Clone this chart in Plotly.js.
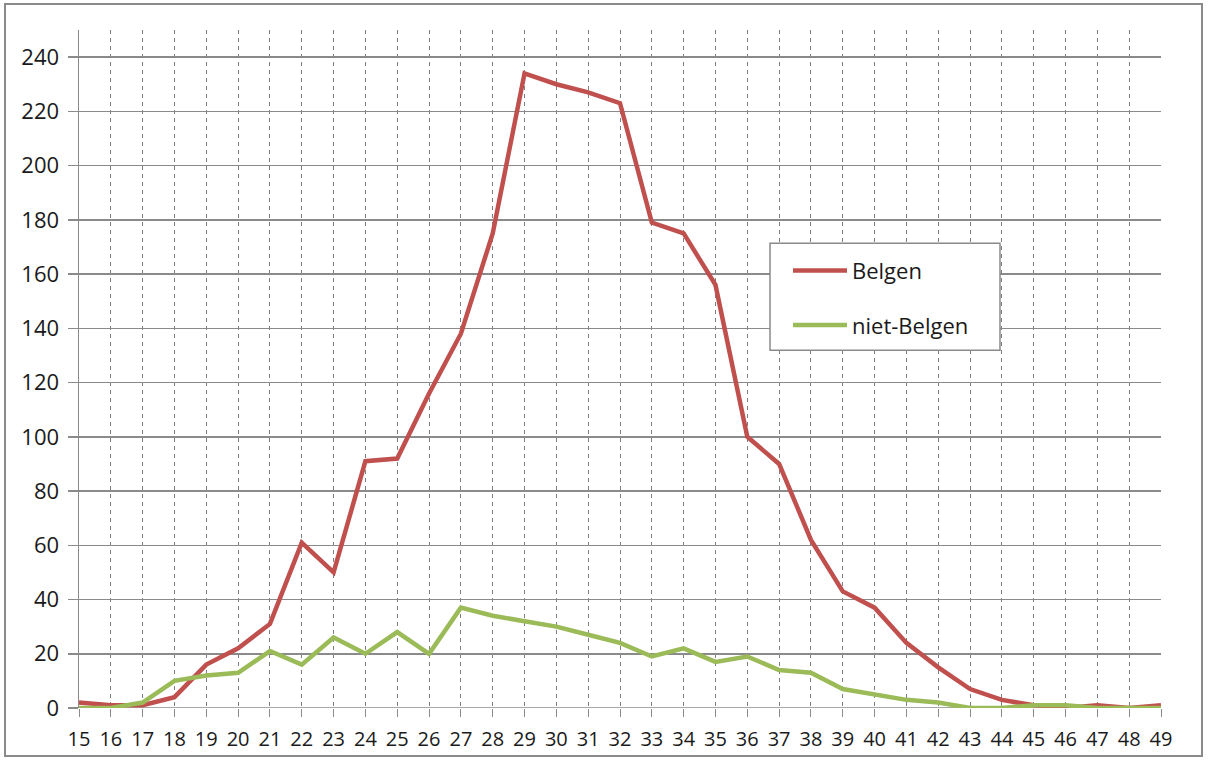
<!DOCTYPE html>
<html>
<head>
<meta charset="utf-8">
<script src="https://cdn.plot.ly/plotly-3.0.1.min.js"></script>
<style>
  html, body { margin: 0; padding: 0; background: #fff; }
  #wrap { position: relative; width: 1212px; height: 762px; overflow: hidden; }
  #chart { position: absolute; left: 0; top: 0; width: 1212px; height: 762px; }
  #frame { position: absolute; left: 4px; top: 3px; width: 1199px; height: 754px; border: 2px solid #8a8a8a; pointer-events: none; box-sizing: border-box; }
</style>
</head>
<body>
<div id="wrap">
  <div id="chart"></div>
  <div id="frame"></div>
</div>
<script>
const ages = [15,16,17,18,19,20,21,22,23,24,25,26,27,28,29,30,31,32,33,34,35,36,37,38,39,40,41,42,43,44,45,46,47,48,49];
const belgen = [2,1,1,4,16,22,31,61,50,91,92,116,138,175,234,230,227,223,179,175,156,100,90,62,43,37,24,15,7,3,1,0,1,0,1];
const nietBelgen = [0,0,2,10,12,13,21,16,26,20,28,20,37,34,32,30,27,24,19,22,17,19,14,13,7,5,3,2,0,0,1,1,0,0,0];
const seriesNames = ['Belgen', 'niet-Belgen'];
const yTicks = [0,20,40,60,80,100,120,140,160,180,200,220,240];

const font = 'Open Sans, Noto Sans, DejaVu Sans, sans-serif';

const traces = [
  { x: ages, y: belgen, name: seriesNames[0], type: 'scatter', mode: 'lines',
    line: { color: '#c0504d', width: 4.5 }, legendgroup: 'a' },
  { x: ages, y: nietBelgen, name: seriesNames[1], type: 'scatter', mode: 'lines',
    line: { color: '#9bbb59', width: 4.5 }, legendgroup: 'b' }
];

const layout = {
  width: 1212, height: 762,
  margin: { l: 79, r: 51, t: 30, b: 54, pad: 0 },
  paper_bgcolor: 'rgba(0,0,0,0)', plot_bgcolor: '#fff',
  showlegend: true,
  legend: {
    x: (788 - 79) / 1082, y: 0.676, xanchor: 'left', yanchor: 'top',
    bgcolor: 'rgba(0,0,0,0)', borderwidth: 0,
    font: { family: font, size: 22, color: '#1a1a1a' },
    traceorder: 'grouped', tracegroupgap: 23, itemwidth: 54
  },
  shapes: [{
    type: 'rect', xref: 'paper', yref: 'paper',
    x0: (770 - 79) / 1082, x1: (1000 - 79) / 1082,
    y0: (707.6 - 350) / 677.6, y1: (707.6 - 243) / 677.6,
    line: { color: '#8a8a8a', width: 1.5 }, fillcolor: '#fff', layer: 'above'
  }, {
    type: 'line', xref: 'paper', yref: 'y', x0: 0, x1: 1, y0: 0, y1: 0,
    line: { color: '#8a8a8a', width: 1.5 }, layer: 'below'
  }],
  xaxis: {
    type: 'linear', range: [15, 49], tickvals: ages, ticktext: ages.map(String),
    showgrid: true, gridcolor: '#7f7f7f', gridwidth: 1, griddash: '4px,4px',
    zeroline: false, showline: false,
    ticks: 'outside', ticklen: 8, tickcolor: '#8a8a8a', tickwidth: 1,
    ticklabelstandoff: 5,
    tickfont: { family: font, size: 20, color: '#1a1a1a' },
    fixedrange: true
  },
  yaxis: {
    range: [0, 250], tickvals: yTicks,
    showgrid: true, gridcolor: '#8a8a8a', gridwidth: 1.5,
    zeroline: false, showline: true, linecolor: '#8a8a8a', linewidth: 1.5,
    ticks: 'outside', ticklen: 10, tickcolor: '#8a8a8a', tickwidth: 1.5,
    ticklabelstandoff: 4,
    tickfont: { family: font, size: 22, color: '#1a1a1a' },
    fixedrange: true
  }
};

Plotly.newPlot('chart', traces, layout, { displayModeBar: false, staticPlot: true });
</script>
</body>
</html>
